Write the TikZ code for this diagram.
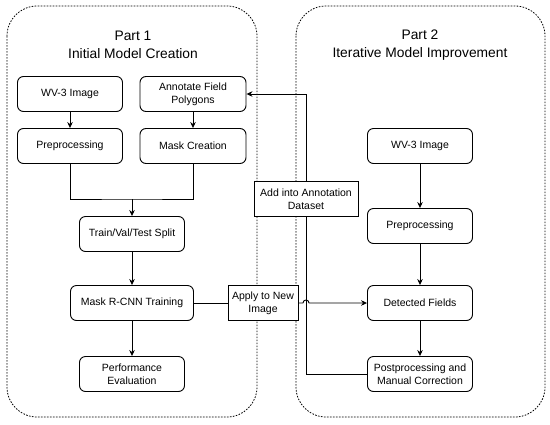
\documentclass[tikz,border=0pt]{standalone}
\usepackage{fontspec}
\setmainfont{Liberation Sans}
\usetikzlibrary{arrows.meta}
\begin{document}
\begin{tikzpicture}[x=1pt,y=-1pt,
  rbox/.style={draw, fill=white, rounded corners=6pt, line width=0.9pt, minimum width=105pt, minimum height=35pt, align=center, font=\fontsize{10.5}{13}\selectfont, inner sep=0pt},
  sbox/.style={draw, fill=white, line width=0.9pt, minimum height=35pt, align=center, font=\fontsize{10.5}{13}\selectfont, inner sep=0pt},
  arr/.style={-{Stealth[length=6pt,width=5.5pt]}, line width=0.9pt},
  ln/.style={line width=0.9pt},
  cont/.style={draw, dash pattern=on 1.6pt off 1.4pt, rounded corners=30pt, line width=0.8pt},
  ttl/.style={align=center, font=\fontsize{13.8}{18}\selectfont}]
\useasboundingbox (0,0) rectangle (550,424);
\draw[cont] (7,6) rectangle (257,417);
\draw[cont] (296,6) rectangle (545,417);
\node[ttl] (t1) at (133,45) {Part 1\\Initial Model Creation};
\node[ttl] (t2) at (420,45) {Part 2\\Iterative Model Improvement};

\node[rbox] (wv1) at (70,94) {WV-3 Image};
\node[rbox, minimum width=106pt] (ann) at (193,94) {Annotate Field\\Polygons};
\node[rbox] (pre1) at (70,146) {Preprocessing};
\node[rbox, minimum width=106pt] (mask) at (193,146) {Mask Creation};
\node[rbox] (split) at (132,234) {Train/Val/Test Split};
\node[rbox, minimum width=123pt] (train) at (132,303) {Mask R-CNN Training};
\node[rbox] (perf) at (132,374) {Performance\\Evaluation};

\node[sbox, minimum width=104pt] (add) at (306,199) {Add into Annotation\\Dataset};
\node[sbox, minimum width=70pt] (apply) at (263,303) {Apply to New\\Image};

\node[rbox] (wv2) at (420,146) {WV-3 Image};
\node[rbox] (pre2) at (420,226) {Preprocessing};
\node[rbox] (det) at (420,303) {Detected Fields};
\node[rbox] (post) at (420,374) {Postprocessing and\\Manual Correction};

\draw[arr] (wv1) -- (pre1);
\draw[arr] (ann) -- (mask);
\coordinate (m) at (132,199);
\draw[ln] (pre1.south) |- (m) -| (mask.south);
\draw[arr] (m) -- (split);
\draw[arr] (split) -- (train);
\draw[arr] (train) -- (perf);
\draw[ln] (train.east) -- (apply.west);
\coordinate (j1) at (303,303);
\coordinate (j2) at (309,303);
\draw[arr] (apply.east) -- (j1) .. controls (303,299) and (309,299) .. (j2) -- (det.west);
\draw[arr] (add.north) |- (ann.east);
\draw[ln] (post.west) -| (add.south);
\draw[arr] (wv2) -- (pre2);
\draw[arr] (pre2) -- (det);
\draw[arr] (det) -- (post);
\end{tikzpicture}
\end{document}
